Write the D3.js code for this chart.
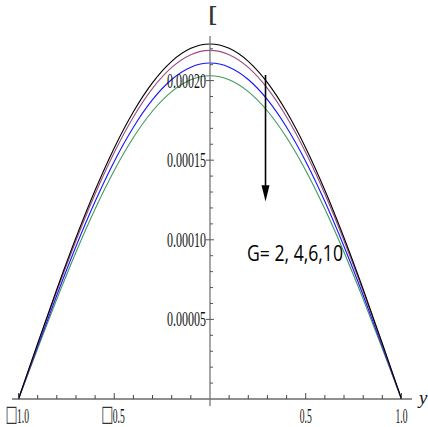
<!DOCTYPE html>
<html>
<head>
<meta charset="utf-8">
<script src="https://cdn.jsdelivr.net/npm/d3@7"></script>
<style>
  html, body { margin: 0; padding: 0; background: #fff; }
  svg { display: block; }
</style>
</head>
<body>
<svg id="chart" width="428" height="427"></svg>
<script>
// ---- data ----
const xValues = [-1.0, -0.9, -0.8, -0.7, -0.6, -0.5, -0.4, -0.3, -0.2, -0.1, 0.0,
                  0.1, 0.2, 0.3, 0.4, 0.5, 0.6, 0.7, 0.8, 0.9, 1.0];
const seriesG2  = [0, 0.3488e-4, 0.6891e-4, 1.0124e-4, 1.3108e-4, 1.5769e-4, 1.8041e-4, 1.9870e-4, 2.1209e-4, 2.2025e-4, 2.230e-4,
                   2.2025e-4, 2.1209e-4, 1.9870e-4, 1.8041e-4, 1.5769e-4, 1.3108e-4, 1.0124e-4, 0.6891e-4, 0.3488e-4, 0];
const seriesG4  = [0, 0.3426e-4, 0.6768e-4, 0.9942e-4, 1.2873e-4, 1.5486e-4, 1.7718e-4, 1.9513e-4, 2.0828e-4, 2.1630e-4, 2.190e-4,
                   2.1630e-4, 2.0828e-4, 1.9513e-4, 1.7718e-4, 1.5486e-4, 1.2873e-4, 0.9942e-4, 0.6768e-4, 0.3426e-4, 0];
const seriesG6  = [0, 0.3301e-4, 0.6520e-4, 0.9579e-4, 1.2402e-4, 1.4920e-4, 1.7070e-4, 1.8800e-4, 2.0067e-4, 2.0840e-4, 2.110e-4,
                   2.0840e-4, 2.0067e-4, 1.8800e-4, 1.7070e-4, 1.4920e-4, 1.2402e-4, 0.9579e-4, 0.6520e-4, 0.3301e-4, 0];
const seriesG10 = [0, 0.3176e-4, 0.6273e-4, 0.9216e-4, 1.1932e-4, 1.4354e-4, 1.6423e-4, 1.8088e-4, 1.9307e-4, 2.0050e-4, 2.030e-4,
                   2.0050e-4, 1.9307e-4, 1.8088e-4, 1.6423e-4, 1.4354e-4, 1.1932e-4, 0.9216e-4, 0.6273e-4, 0.3176e-4, 0];
const seriesNames = ["G=2", "G=4", "G=6", "G=10"];
const seriesColors = ["#000000", "#9c4c80", "#1414ff", "#3f9a5c"];

const xTickValues = [-1.0, -0.5, 0.5, 1.0];
const xTickBoxes = ["\u25A1", "\u25A1", "", ""];
const xTickLabels = ["1.0", "0.5", "0.5", "1.0"];
const yTickValues = [0.00005, 0.00010, 0.00015, 0.00020];
const yTickLabels = ["0.00005", "0.00010", "0.00015", "0.00020"];
const annotationText = "G= 2, 4,6,10";
const yAxisTitle = "[";
const xAxisTitle = "y";

// ---- layout ----
const svg = d3.select("#chart");
const x = d3.scaleLinear().domain([-1.034, 1.055]).range([12, 412]);
const y = d3.scaleLinear().domain([0, 0.000228]).range([399, 36]);

const allSeries = [seriesG2, seriesG4, seriesG6, seriesG10];

// ---- curves ----
const line = d3.line()
  .x((d, i) => x(xValues[i]))
  .y(d => y(d))
  .curve(d3.curveNatural);

for (let k = allSeries.length - 1; k >= 0; k--) {
  svg.append("path")
    .datum(allSeries[k])
    .attr("d", line)
    .attr("fill", "none")
    .attr("stroke", seriesColors[k])
    .attr("stroke-width", 1.1);
}

// ---- x axis ----
const axisG = svg.append("g");
axisG.append("line")
  .attr("x1", 12).attr("x2", 412)
  .attr("y1", y(0)).attr("y2", y(0))
  .attr("stroke", "#222").attr("stroke-width", 1.2);

const xMinor = d3.range(-10, 11).map(i => i / 10).filter(v => v !== 0);
axisG.selectAll(".xminor").data(xMinor).enter().append("line")
  .attr("x1", d => x(d)).attr("x2", d => x(d))
  .attr("y1", y(0))
  .attr("y2", d => (Math.abs(Math.abs(d) - 0.5) < 1e-9 || Math.abs(Math.abs(d) - 1) < 1e-9) ? y(0) - 6 : y(0) - 4)
  .attr("stroke", "#444").attr("stroke-width", 1);

// box glyph (unrendered minus sign) + number
xTickValues.forEach((v, i) => {
  const cx = x(v);
  const hasBox = xTickBoxes[i] !== "";
  if (hasBox) {
    axisG.append("text")
      .attr("transform", `translate(${cx - 1},${421}) scale(0.75,1.3)`)
      .attr("text-anchor", "end")
      .attr("font-family", "DejaVu Sans, sans-serif")
      .attr("font-size", 17)
      .attr("fill", "#333")
      .text(xTickBoxes[i]);
  }
  axisG.append("text")
    .attr("x", hasBox ? cx + 4.5 : cx)
    .attr("y", 423)
    .attr("text-anchor", "middle")
    .attr("font-family", "Liberation Serif, Times New Roman, serif")
    .attr("font-size", 21)
    .attr("textLength", 12)
    .attr("lengthAdjust", "spacingAndGlyphs")
    .attr("fill", "#111")
    .text(xTickLabels[i]);
});

axisG.append("text")
  .attr("x", 419).attr("y", 404)
  .attr("font-family", "Liberation Serif, Times New Roman, serif")
  .attr("font-style", "italic")
  .attr("font-size", 19)
  .attr("fill", "#111")
  .text(xAxisTitle);

// ---- y axis ----
axisG.append("line")
  .attr("x1", x(0)).attr("x2", x(0))
  .attr("y1", 36).attr("y2", 406)
  .attr("stroke", "#777").attr("stroke-width", 1.3);

const yMinor = d3.range(1, 23).map(i => i * 0.00001);
axisG.selectAll(".yminor").data(yMinor).enter().append("line")
  .attr("x1", d => x(0) - (Math.round(d * 1e5) % 5 === 0 ? 4 : 0))
  .attr("x2", d => x(0) + (Math.round(d * 1e5) % 5 === 0 ? 4 : 3))
  .attr("y1", d => y(d)).attr("y2", d => y(d))
  .attr("stroke", "#555").attr("stroke-width", 1);

axisG.selectAll(".ylab").data(yTickValues).enter().append("text")
  .attr("x", x(0) - 4)
  .attr("y", d => y(d) + 7)
  .attr("text-anchor", "end")
  .attr("font-family", "Liberation Serif, Times New Roman, serif")
  .attr("font-size", 21)
  .attr("textLength", 39)
  .attr("lengthAdjust", "spacingAndGlyphs")
  .attr("fill", "#111")
  .text((d, i) => yTickLabels[i]);

axisG.append("text")
  .attr("transform", "translate(208,21) scale(1.5,1)")
  .attr("text-anchor", "start")
  .attr("font-family", "Liberation Sans, Arial, sans-serif")
  .attr("font-size", 20)
  .attr("fill", "#333")
  .text(yAxisTitle);

// ---- arrow annotation ----
const arrowX = x(0.29);
svg.append("line")
  .attr("x1", arrowX).attr("x2", arrowX)
  .attr("y1", y(0.0002035)).attr("y2", y(0.000133))
  .attr("stroke", "#000").attr("stroke-width", 1.6);
svg.append("path")
  .attr("d", `M${arrowX - 4},${y(0.000133) - 2} L${arrowX + 4},${y(0.000133) - 2} L${arrowX},${y(0.000124)} Z`)
  .attr("fill", "#000");

svg.append("text")
  .attr("x", 247).attr("y", 261)
  .attr("font-family", "Open Sans, sans-serif")
  .attr("font-size", 22)
  .attr("textLength", 96)
  .attr("lengthAdjust", "spacingAndGlyphs")
  .attr("fill", "#000")
  .text(annotationText);
</script>
</body>
</html>
